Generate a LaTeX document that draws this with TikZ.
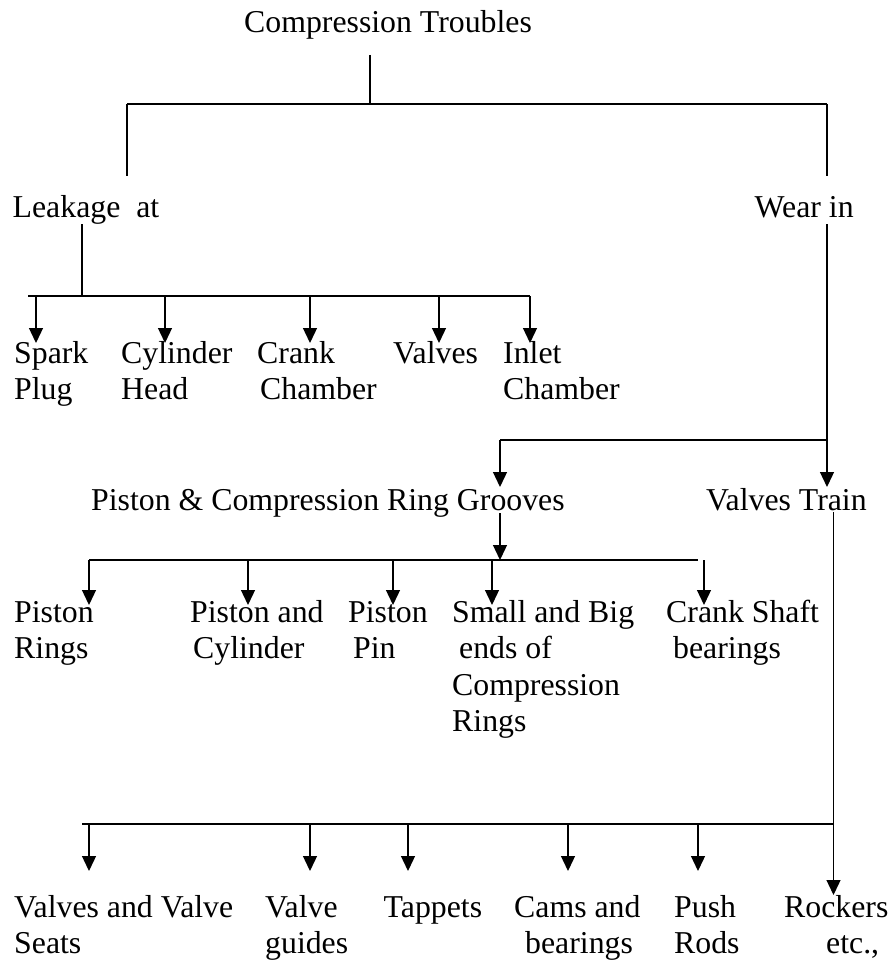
\documentclass[tikz,border=0pt]{standalone}
\usepackage{fontspec}
\setmainfont{Liberation Serif}
\usetikzlibrary{arrows.meta}
\newcommand{\mlines}[1]{\begin{tabular}[t]{@{}l@{}}#1\end{tabular}}
\begin{document}
\begin{tikzpicture}[x=1pt,y=-1pt,
  lbl/.style={anchor=base west,inner sep=0pt,font=\fontsize{31.8}{36.5}\selectfont},
  ln/.style={line width=1.3pt},
  bar/.style={line width=2pt},
  arr/.style={line width=1.3pt,-{Triangle[width=14pt,length=15pt]}}]
\useasboundingbox (0,0) rectangle (891,960);

% ---- texts ----
\node[lbl] (title) at (244,33) {Compression Troubles};
\node[lbl] (leak) at (12.5,217) {Leakage\ \ at};
\node[lbl] (wear) at (754.5,217) {Wear in};

\node[lbl] (spark) at (14,363) {\mlines{Spark\\Plug}};
\node[lbl] (cylh) at (121,363) {\mlines{Cylinder\\Head}};
\node[lbl] (crank) at (257,363) {\mlines{Crank\\\hspace*{3pt}Chamber}};
\node[lbl] (valves) at (393,363) {Valves};
\node[lbl] (inlet) at (503,363) {\mlines{Inlet\\Chamber}};

\node[lbl] (groove) at (91,510) {Piston \& Compression Ring Grooves};
\node[lbl] (vtrain) at (706,510) {Valves Train};

\node[lbl] (prings) at (14,622) {\mlines{Piston\\Rings}};
\node[lbl] (pcyl) at (190,622) {\mlines{Piston and\\\hspace*{3pt}Cylinder}};
\node[lbl] (ppin) at (348,622) {\mlines{Piston\\\hspace*{5pt}Pin}};
\node[lbl] (sbig) at (452,622) {\mlines{Small and Big\\\hspace*{7pt}ends of\\Compression\\Rings}};
\node[lbl] (cshaft) at (666,622) {\mlines{Crank Shaft\\\hspace*{7pt}bearings}};

\node[lbl] (vseat) at (14,917) {\mlines{Valves and Valve\\Seats}};
\node[lbl] (vguide) at (265,917) {\mlines{Valve\\guides}};
\node[lbl] (tappet) at (383.5,917) {Tappets};
\node[lbl] (cams) at (514,917) {\mlines{Cams and\\\hspace*{11pt}bearings}};
\node[lbl] (push) at (674,917) {\mlines{Push\\Rods}};
\node[lbl] (rock) at (784,917) {\mlines{Rockers\\\hspace*{42pt}etc.,}};

% ---- junction coordinates ----
\coordinate (t0) at (370,55);
\coordinate (t1) at (370,104);
\coordinate (tl) at (127,104);
\coordinate (tr) at (827,104);
\coordinate (tlb) at (127,176);
\coordinate (trb) at (827,176);

\coordinate (l0) at (82,224);
\coordinate (l1) at (82,296);
\coordinate (lbL) at (28,296);
\coordinate (lbR) at (530,296);

\coordinate (w0) at (827,224);
\coordinate (w1) at (827,440);
\coordinate (w2) at (500,440);
\coordinate (wA) at (827,487);
\coordinate (wB) at (500,487);

\coordinate (g0) at (500,513);
\coordinate (g1) at (500,560);
\coordinate (gbL) at (89,560);
\coordinate (gbR) at (698,560);

\coordinate (v0) at (833.5,512);
\coordinate (v1) at (833.5,824);
\coordinate (vA) at (833.5,895);
\coordinate (vbL) at (82,824);

% ---- connectors ----
\draw[ln] (t0) -- (t1);
\draw[bar] (tl) -- (tr);
\draw[ln] (tl) -- (tlb);
\draw[ln] (tr) -- (trb);

\draw[ln] (l0) -- (l1);
\draw[bar] (lbL) -- (lbR);
\foreach \x in {36,165,310,439,530}
  \draw[arr] (\x,296) -- (\x,343);

\draw[arr] (w0) -- (wA);
\draw[ln] (w1) -- (w2);
\draw[arr] (w2) -- (wB);

\draw[arr] (g0) -- (g1);
\draw[bar] (gbL) -- (gbR);
\foreach \x in {89,248,393,492,704}
  \draw[arr] (\x,560) -- (\x,605);

\draw[arr] (v0) -- (vA);
\draw[bar] (vbL) -- (v1);
\foreach \x in {89,310,408,568,698}
  \draw[arr] (\x,824) -- (\x,871);
\end{tikzpicture}
\end{document}
